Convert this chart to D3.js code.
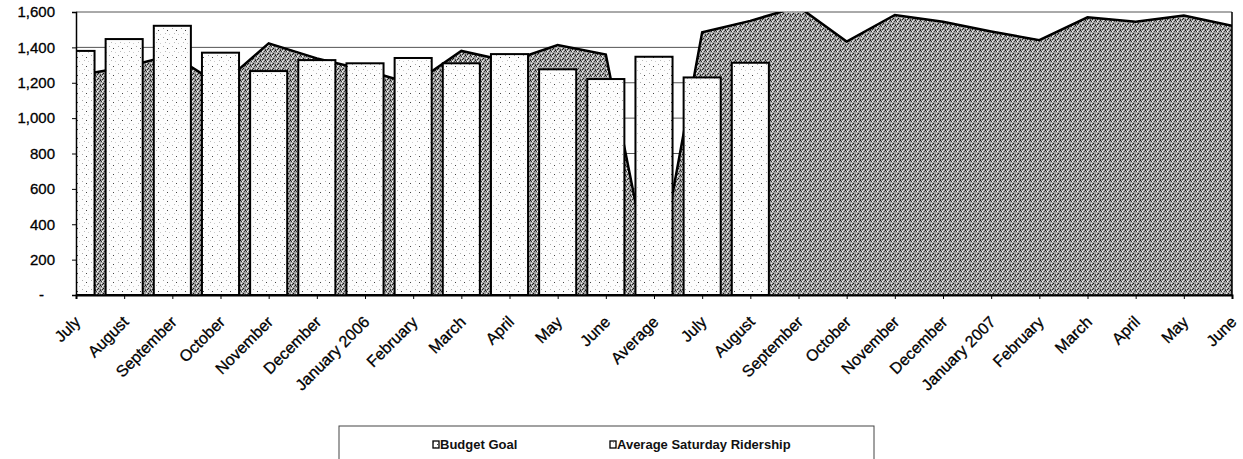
<!DOCTYPE html>
<html>
<head>
<meta charset="utf-8">
<script src="https://cdn.jsdelivr.net/npm/d3@7"></script>
<style>
    body { margin: 0; background: #fff; }
    text { font-family: "Liberation Sans", Arial, sans-serif; }
</style>
</head>
<body>
<div id="viz"></div>
<script>
const categories = ["July", "August", "September", "October", "November", "December", "January 2006", "February", "March", "April", "May", "June", "Average",
    "July", "August", "September", "October", "November", "December", "January 2007", "February", "March", "April", "May", "June"];
const budgetGoal = [1240, 1288, 1357, 1185, 1423, 1338, 1272, 1192, 1380, 1320, 1413, 1360, 0,
    1485, 1550, 1630, 1433, 1583, 1545, 1490, 1441, 1570, 1545, 1580, 1522];
const ridership = [1380, 1447, 1522, 1370, 1266, 1328, 1310, 1340, 1310, 1362, 1276, 1221, 1347, 1230, 1313];
const yTicks = [0, 200, 400, 600, 800, 1000, 1200, 1400, 1600];
const seriesNames = ["Budget Goal", "Average Saturday Ridership"];

document.addEventListener("DOMContentLoaded", () => {
    const width = 1243;
    const height = 459;
    const left = 76, right = 1232, top = 12, bottom = 295;

    const svg = d3.select('#viz').append('svg')
        .attr('width', width)
        .attr('height', height);

    const defs = svg.append('defs');

    // dense stipple for the area
    const pa = defs.append('pattern').attr('id', 'areaFill')
        .attr('width', 5).attr('height', 5).attr('patternUnits', 'userSpaceOnUse');
    pa.append('rect').attr('width', 5).attr('height', 5).attr('fill', '#a2a2a2');
    [[0, 0, '#111'], [2, 1, '#fff'], [3, 3, '#111'], [1, 3, '#eee'], [4, 1, '#444'], [1, 1, '#333'], [3, 0, '#ddd'], [0, 4, '#555'], [2, 4, '#222']]
        .forEach(p => pa.append('rect').attr('x', p[0]).attr('y', p[1]).attr('width', 1).attr('height', 1).attr('fill', p[2]));

    // light stipple for the bars
    const pb = defs.append('pattern').attr('id', 'barFill')
        .attr('width', 9).attr('height', 9).attr('patternUnits', 'userSpaceOnUse');
    pb.append('rect').attr('width', 9).attr('height', 9).attr('fill', '#fdfdfd');
    [[1, 1, '#aaa'], [5, 3, '#444'], [3, 6, '#bbb'], [7, 7, '#ccc']]
        .forEach(p => pb.append('rect').attr('x', p[0]).attr('y', p[1]).attr('width', 1).attr('height', 1).attr('fill', p[2]));

    defs.append('clipPath').attr('id', 'plotClip')
        .append('rect').attr('x', left).attr('y', top).attr('width', right - left).attr('height', bottom - top);

    const x = d3.scalePoint()
        .domain(d3.range(categories.length))
        .range([left, right]);

    const y = d3.scaleLinear()
        .domain([0, 1600])
        .range([bottom, top]);

    const barWidth = x.step() * 0.77;

    // gridlines
    svg.append('g')
        .selectAll('line')
        .data(yTicks.filter(d => d > 0))
        .enter()
        .append('line')
        .attr('x1', left).attr('x2', right)
        .attr('y1', d => y(d)).attr('y2', d => y(d))
        .attr('stroke', '#555')
        .attr('stroke-width', 1);

    const plot = svg.append('g').attr('clip-path', 'url(#plotClip)');

    const area = d3.area()
        .x((d, i) => x(i))
        .y0(y(0))
        .y1(d => y(d));

    plot.append('path')
        .datum(budgetGoal)
        .attr('d', area)
        .attr('fill', 'url(#areaFill)')
        .attr('stroke', '#000')
        .attr('stroke-width', 1);

    plot.append('path')
        .datum(budgetGoal)
        .attr('d', d3.line().x((d, i) => x(i)).y(d => y(d)))
        .attr('fill', 'none')
        .attr('stroke', '#000')
        .attr('stroke-width', 2.5)
        .attr('stroke-linejoin', 'miter');

    plot.selectAll('rect.bar')
        .data(ridership)
        .enter()
        .append('rect')
        .attr('class', 'bar')
        .attr('x', (d, i) => x(i) - barWidth / 2)
        .attr('y', d => y(d))
        .attr('width', barWidth)
        .attr('height', d => y(0) - y(d))
        .attr('fill', 'url(#barFill)')
        .attr('stroke', '#000')
        .attr('stroke-width', 2);

    // plot border on the right
    svg.append('line')
        .attr('x1', right).attr('x2', right).attr('y1', top).attr('y2', bottom)
        .attr('stroke', '#000').attr('stroke-width', 1.5);

    const yAxis = svg.append('g')
        .attr('transform', `translate(${left},0)`)
        .call(d3.axisLeft(y).tickValues(yTicks).tickSize(4).tickPadding(17)
            .tickFormat(d => d === 0 ? '-' : d3.format(',')(d)));
    yAxis.select('.domain').attr('stroke', '#000').attr('stroke-width', 1.5);
    yAxis.selectAll('.tick line').attr('stroke', '#000');
    yAxis.selectAll('text')
        .attr('font-size', 15)
        .attr('fill', '#000')
        .attr('stroke', '#000')
        .attr('stroke-width', 0.3)
        .attr('dx', d => d === 0 ? -11 : 0);

    const xAxis = svg.append('g')
        .attr('transform', `translate(0,${bottom})`)
        .call(d3.axisBottom(x).tickSize(4).tickFormat(i => categories[i]));
    xAxis.select('.domain').attr('stroke', '#000').attr('stroke-width', 2);
    xAxis.selectAll('.tick line').attr('stroke', '#000');
    xAxis.selectAll('text')
        .attr('font-size', 16)
        .attr('fill', '#000')
        .attr('stroke', '#000')
        .attr('stroke-width', 0.3)
        .attr('text-anchor', 'end')
        .attr('y', 0)
        .attr('dy', '0.35em')
        .attr('transform', 'translate(1,24) rotate(-45)');

    // legend
    const legend = svg.append('g');
    legend.append('rect')
        .attr('x', 339).attr('y', 426)
        .attr('width', 535).attr('height', 60)
        .attr('fill', '#fff')
        .attr('stroke', '#444')
        .attr('stroke-width', 1);

    const itemX = [433, 610];
    seriesNames.forEach((name, i) => {
        legend.append('rect')
            .attr('x', itemX[i]).attr('y', 441)
            .attr('width', 6).attr('height', 7)
            .attr('fill', 'url(#barFill)')
            .attr('stroke', '#000')
            .attr('stroke-width', 1.3);
        legend.append('text')
            .attr('x', itemX[i] + 7).attr('y', 449)
            .attr('font-size', 13)
            .attr('font-weight', 'bold')
            .attr('fill', '#111')
            .text(name);
    });
});
</script>
</body>
</html>
